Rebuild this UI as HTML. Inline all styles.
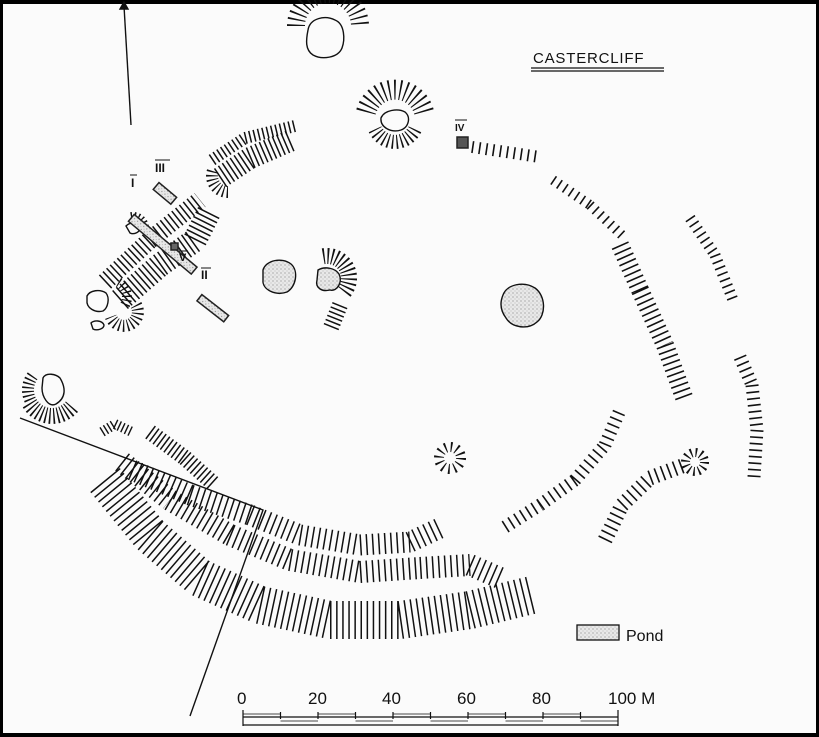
<!DOCTYPE html>
<html><head><meta charset="utf-8"><style>
html,body{margin:0;padding:0;background:#fff;}
svg{display:block;}
text{font-family:"Liberation Sans",sans-serif;fill:#111;}
</style></head><body>
<svg width="819" height="737" viewBox="0 0 819 737" xmlns="http://www.w3.org/2000/svg">
<defs>
<pattern id="dots" width="4" height="4" patternUnits="userSpaceOnUse">
<rect width="4" height="4" fill="#e8e8e8"/><circle cx="1" cy="1" r="0.6" fill="#888"/><circle cx="3" cy="3" r="0.5" fill="#aaa"/>
</pattern>
</defs>
<rect x="0" y="0" width="819" height="737" fill="#fbfbfb"/>
<rect x="0" y="0" width="819" height="4" fill="#000"/>
<rect x="0" y="733" width="819" height="4" fill="#000"/>
<rect x="0" y="0" width="3" height="737" fill="#000"/>
<rect x="816" y="0" width="3" height="737" fill="#000"/>

<g fill="none" stroke="#111">
<!-- bottom ramparts -->
<path d="M105,480L150,535M150,535L200,578M200,578L260,605M260,605L330,620M330,620L400,620M400,620L470,610M470,610L532,595" stroke-width="38" stroke-dasharray="1.5 4.6"/>
<path d="M122,462L170,500M170,500L230,535M230,535L290,560M290,560L360,572M360,572L420,568M420,568L470,565M470,565L500,578" stroke-width="22" stroke-dasharray="1.5 4.6"/>
<path d="M132,470L190,495M190,495L250,515M250,515L300,535M300,535L360,545M360,545L410,542M410,542L440,528" stroke-width="21" stroke-dasharray="1.5 4.6"/>
<path d="M150,432L185,458M185,458L215,485" stroke-width="16" stroke-dasharray="1.5 3"/>
<path d="M102,432L115,424M115,424L132,432" stroke-width="10" stroke-dasharray="1.4 2.6"/>
<!-- NW ridges -->
<path d="M105,282L150,240M150,240L200,200" stroke-width="18" stroke-dasharray="1.5 3.4"/>
<path d="M120,300L160,265M160,265L195,240M195,240L210,210" stroke-width="24" stroke-dasharray="1.5 3.4"/>
<path d="M212,160L245,138M245,138L295,126" stroke-width="12" stroke-dasharray="1.5 3"/>
<path d="M220,178L250,158M250,158L292,140" stroke-width="22" stroke-dasharray="1.5 3.2"/>
<path d="M340,305L330,330" stroke-width="16" stroke-dasharray="1.5 3"/>
<path d="M472,147L540,157" stroke-width="12" stroke-dasharray="1.6 5.4"/>
<!-- east ramparts -->
<path d="M553,180L590,205M590,205L625,238" stroke-width="10" stroke-dasharray="1.6 5.4"/>
<path d="M620,245L640,290M640,290L665,345M665,345L685,400" stroke-width="18" stroke-dasharray="1.6 4.4"/>
<path d="M690,218L715,255M715,255L733,300" stroke-width="11" stroke-dasharray="1.6 4.9"/>
<path d="M740,357L752,385M752,385L757,430M757,430L754,477" stroke-width="13" stroke-dasharray="1.6 4.9"/>
<path d="M505,527L540,505M540,505L575,480M575,480L605,445M605,445L620,410" stroke-width="13" stroke-dasharray="1.6 5.2"/>
<path d="M605,540L622,505M622,505L650,478M650,478L682,466" stroke-width="15" stroke-dasharray="1.6 4.9"/>
<!-- radial clusters -->
<path d="M71.9,406.7 A26,26 0 0 1 29.5,403" stroke-width="16" stroke-dasharray="1.4 2.6"/>
<path d="M30.2,400.1 A24,24 0 0 1 33.6,374.6" stroke-width="12" stroke-dasharray="1.4 2.6"/>
<path d="M136.1,305 A14,14 0 1 1 110.8,316.8" stroke-width="12" stroke-dasharray="1.3 2.8"/>
<path d="M118.5,282.3 A17,17 0 0 1 124.7,305.5" stroke-width="10" stroke-dasharray="1.3 2.8"/>
<path d="M130.8,215.7 A12.5,12.5 0 0 1 144.7,232.3" stroke-width="7" stroke-dasharray="1.3 2.5"/>
<path d="M228,192 A16,16 0 0 1 213,170.5" stroke-width="12" stroke-dasharray="1.3 2.8"/>
<path d="M296,26 A32,32 0 0 1 360,26" stroke-width="18" stroke-dasharray="1.5 4.2"/>
<path d="M366,112 A30,30 0 0 1 424,112" stroke-width="20" stroke-dasharray="1.5 4"/>
<path d="M414.9,129.3 A22,22 0 0 1 375.1,129.3" stroke-width="14" stroke-dasharray="1.4 3"/>
<path d="M323.2,256.3 A22,22 0 0 1 343.9,292.1" stroke-width="16" stroke-dasharray="1.5 2.8"/>
<circle cx="450" cy="458" r="11" stroke-width="10" stroke-dasharray="1.5 4.3"/>
<circle cx="695" cy="462" r="9.5" stroke-width="9" stroke-dasharray="1.5 3.5"/>
</g>

<g stroke="#111" stroke-width="1.4" fill="none">
<line x1="131" y1="125" x2="124" y2="6"/>
<polygon points="124,2 120,9 128,9" fill="#111"/>
<polyline points="20,418 263,510 190,716"/>
<path d="M308,30 C310,18 325,15 335,20 C345,24 345,40 342,48 C338,58 322,60 313,55 C305,50 306,40 308,30Z" fill="#fbfbfb"/>
<path d="M381,118 C384,110 398,108 405,112 C411,117 409,127 401,130 C392,133 380,128 381,118Z" fill="#fbfbfb"/>
<path d="M263,270 C266,260 282,257 291,264 C299,271 296,287 287,292 C276,296 262,290 263,280Z" fill="url(#dots)"/>
<path d="M318,270 C325,266 335,268 339,274 C343,282 337,292 330,290 C322,292 315,288 317,280Z" fill="url(#dots)"/>
<path d="M503,295 C507,284 524,281 535,288 C546,296 546,315 537,322 C528,330 512,328 506,318 C500,310 500,302 503,295Z" fill="url(#dots)"/>
<path d="M87,296 C90,290 100,289 106,293 C110,298 108,308 103,311 C95,313 86,308 87,300Z" fill="#fbfbfb"/>
<path d="M91,323 C94,320 102,320 104,325 C104,329 97,331 93,329Z"/>
<path d="M126,226 C130,222 138,222 140,227 C141,232 134,235 130,233Z" fill="#fbfbfb"/>
<path d="M43,378 C46,372 56,374 60,378 C66,388 66,398 56,404 C48,408 42,396 42,388Z" fill="#fbfbfb"/>
</g>
<g stroke="#222" stroke-width="1.5">
<rect x="130" y="218" width="82" height="9" transform="rotate(40 137 222)" fill="url(#dots)"/>
<rect x="157" y="184" width="23" height="9" transform="rotate(40 160 186)" fill="url(#dots)"/>
<rect x="171" y="243" width="7" height="7" fill="#666"/>
<rect x="200" y="296" width="34" height="8" transform="rotate(38 203 298)" fill="url(#dots)"/>
<rect x="457" y="137" width="11" height="11" fill="#555"/>
</g>
<g font-family="Liberation Serif,serif" font-size="12" font-weight="bold">
<text x="131" y="187">I</text><line x1="130" y1="175" x2="137" y2="175" stroke="#111"/>
<text x="155" y="172">III</text><line x1="155" y1="160" x2="170" y2="160" stroke="#111"/>
<text x="179" y="261" font-size="11">V</text><line x1="179" y1="251" x2="188" y2="251" stroke="#111"/>
<text x="201" y="279">II</text><line x1="201" y1="268" x2="211" y2="268" stroke="#111"/>
<text x="455" y="131" font-size="10">IV</text><line x1="455" y1="120" x2="467" y2="120" stroke="#111"/>
</g>
<text x="533" y="63" font-size="15" letter-spacing="0.8">CASTERCLIFF</text>
<line x1="531" y1="68" x2="664" y2="68" stroke="#111" stroke-width="1.3"/>
<line x1="531" y1="71" x2="664" y2="71" stroke="#111" stroke-width="1.3"/>
<rect x="577" y="625" width="42" height="15" fill="url(#dots)" stroke="#111" stroke-width="1.3"/>
<text x="626" y="641" font-size="16">Pond</text>
<g font-size="17">
<text x="237" y="704">0</text><text x="308" y="704">20</text><text x="382" y="704">40</text>
<text x="457" y="704">60</text><text x="532" y="704">80</text><text x="608" y="704">100 M</text>
</g>
<g stroke="#111" stroke-width="1.2" fill="none">
<path d="M243,710V726M618,710V726M243,717H618M243,725H618"/>
<path d="M280.5,712V719M318,712V719M355.5,712V719M393,712V719M430.5,712V719M468,712V719M505.5,712V719M543,712V719M580.5,712V719"/>
<path d="M243,714H280.5M318,714H355.5M393,714H430.5M468,714H505.5M543,714H580.5M280.5,721H318M355.5,721H393M430.5,721H468M505.5,721H543M580.5,721H618" stroke-width="0.8"/>
</g>
</svg>
</body></html>
